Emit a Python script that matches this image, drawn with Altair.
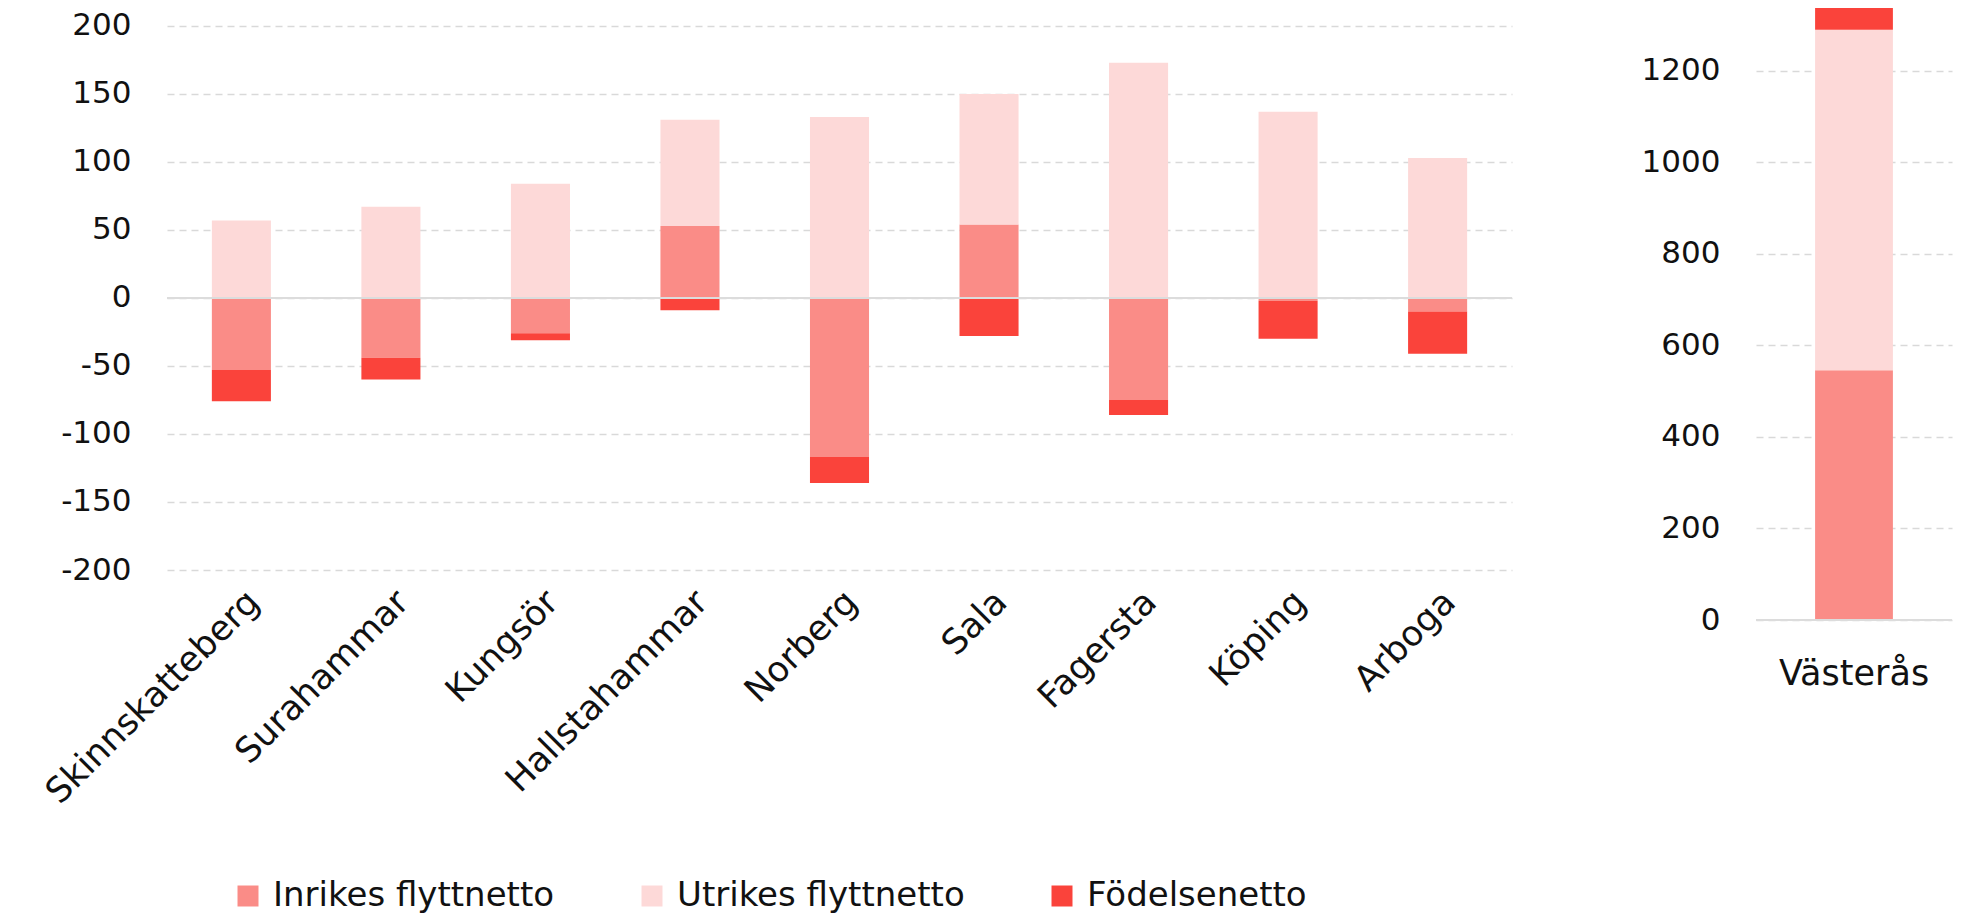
import altair as alt
import pandas as pd

# ---- data ----
kommuner = ["Skinnskatteberg", "Surahammar", "Kungsör", "Hallstahammar", "Norberg",
            "Sala", "Fagersta", "Köping", "Arboga"]
inrikes = [-53, -44, -26, 53, -117, 54, -75, -2, -10]
utrikes = [57, 67, 84, 78, 133, 96, 173, 137, 103]
fodelse = [-23, -16, -5, -9, -19, -28, -11, -28, -31]

stor_kommun = ["Västerås"]
stor_inrikes = [546]
stor_utrikes = [744]
stor_fodelse = [70]

serier = ["Inrikes flyttnetto", "Utrikes flyttnetto", "Födelsenetto"]
farger = ["#FA8C87", "#FDD9D8", "#FA433B"]

left_ticks = [-200, -150, -100, -50, 0, 50, 100, 150, 200]
right_ticks = [0, 200, 400, 600, 800, 1000, 1200]


def long_df(names, a, b, c):
    rows = []
    for i, n in enumerate(names):
        for j, (s, v) in enumerate(zip(serier, (a[i], b[i], c[i]))):
            rows.append({"Kommun": n, "Serie": s, "Värde": v, "ordning": j})
    return pd.DataFrame(rows)


df_left = long_df(kommuner, inrikes, utrikes, fodelse)
df_right = long_df(stor_kommun, stor_inrikes, stor_utrikes, stor_fodelse)
zero_df = pd.DataFrame({"y": [0]})

FONT = "DejaVu Sans"
FS_Y = 31
FS_X = 35
FS_L = 34
GRID = "#d9d9d9"
TXT = "#111111"

color = alt.Color(
    "Serie:N",
    scale=alt.Scale(domain=serier, range=farger),
    legend=alt.Legend(
        title=None, orient="none", direction="horizontal", columns=3,
        legendX=64, legendY=871, symbolType="square", symbolSize=441,
        symbolStrokeWidth=0, labelFontSize=FS_L, labelFont=FONT, labelColor=TXT,
        columnPadding=80, labelOffset=8, labelLimit=800,
    ),
)


def panel(df, names, domain, ticks, width, height, label_angle, label_pad):
    bars = alt.Chart(df).mark_bar(clip=True).encode(
        x=alt.X("Kommun:N", sort=names, title=None,
                scale=alt.Scale(paddingInner=0.605, paddingOuter=0.3),
                axis=alt.Axis(labelAngle=label_angle, domain=False, ticks=False,
                              labelPadding=label_pad, labelFontSize=FS_X, labelFont=FONT,
                              labelColor=TXT, labelLimit=800, grid=False)),
        y=alt.Y("Värde:Q", stack="zero", title=None,
                scale=alt.Scale(domain=domain, nice=False, zero=False),
                axis=alt.Axis(values=ticks, labelExpr="'' + datum.value",
                              domain=False, ticks=False,
                              labelPadding=36, labelFontSize=FS_Y, labelFont=FONT,
                              labelColor=TXT, grid=True, gridDash=[7, 5],
                              gridColor=GRID, gridWidth=1.3)),
        color=color,
        order=alt.Order("ordning:Q"),
    )
    rule = alt.Chart(zero_df).mark_rule(color="#dcdcdc", strokeWidth=2).encode(y="y:Q")
    return alt.layer(bars, rule).properties(width=width, height=height)


left = panel(df_left, kommuner, [-200, 213.2], left_ticks, 1345, 562, -45, 14)
right = panel(df_right, stor_kommun, [0, 1337.7], right_ticks, 196, 612, 0, 36)

chart = alt.hconcat(left, right, spacing=244, bounds="flush").properties(
    padding={"left": 31, "top": 0, "right": 0, "bottom": 0}
).configure(font=FONT, view=alt.ViewConfig(stroke=None))

chart.save("out.html", embed_options={"renderer": "svg", "actions": False})
